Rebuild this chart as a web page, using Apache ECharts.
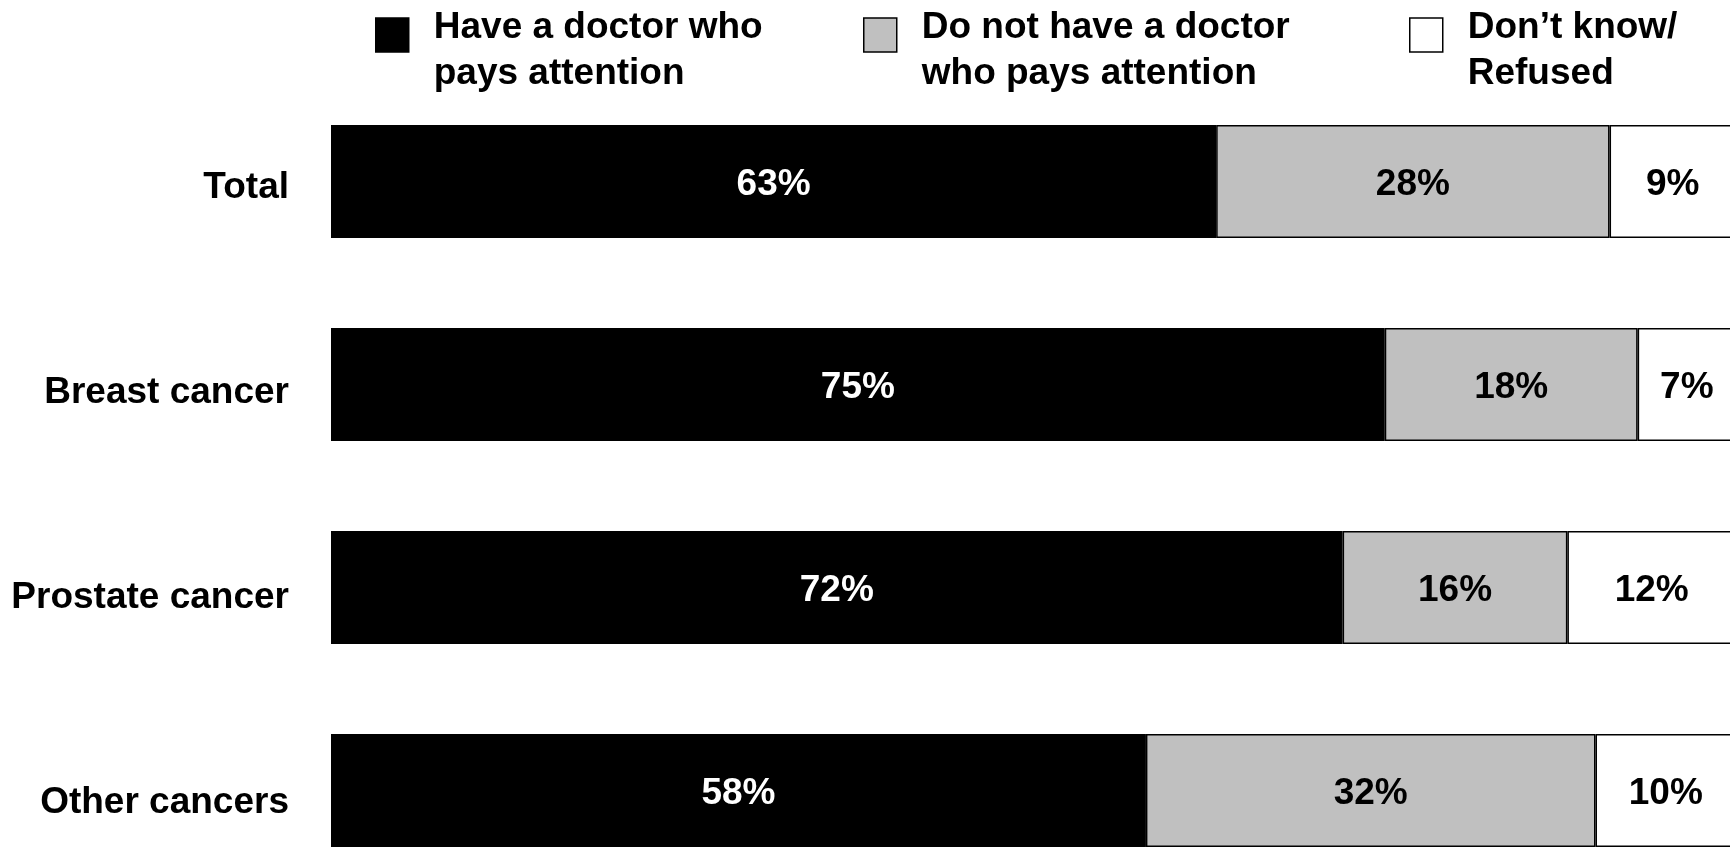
<!DOCTYPE html>
<html>
<head>
<meta charset="utf-8">
<script src="https://cdn.jsdelivr.net/npm/echarts@6/dist/echarts.min.js"></script>
<style>
html,body{margin:0;padding:0;background:#fff;}
#chart{width:1730px;height:847px;}
</style>
</head>
<body>
<div id="chart"></div>
<script>
const categories = ['Total', 'Breast cancer', 'Prostate cancer', 'Other cancers'];
const seriesNames = ['Have a doctor who\npays attention', 'Do not have a doctor\nwho pays attention', 'Don\u2019t know/\nRefused'];
const haveDoctor = [63, 75, 72, 58];
const noDoctor = [28, 18, 16, 32];
const dontKnow = [9, 7, 12, 10];

const colors = ['#000000', '#c0c0c0', '#ffffff'];
const labelColors = ['#ffffff', '#000000', '#000000'];
const values = [haveDoctor, noDoctor, dontKnow];
const FONT = 'Liberation Sans, Arial, Helvetica, sans-serif';

const chart = echarts.init(document.getElementById('chart'));

const legendLefts = [375, 863, 1409];
const legends = seriesNames.map((n, i) => ({
  data: [n],
  left: legendLefts[i],
  top: -27,
  padding: 0,
  itemWidth: 33,
  itemHeight: 34,
  icon: 'rect',
  selectedMode: false,
  itemStyle: { borderColor: '#000', borderWidth: 1.5 },
  formatter: function (name) {
    return '{s| }\n' + name.split('\n').map(t => '{a|' + t + '}').join('\n');
  },
  textStyle: {
    fontFamily: FONT, fontSize: 37, fontWeight: 'bold', color: '#000',
    padding: [0, 0, 0, 20],
    rich: {
      s: { fontSize: 10, height: 32, lineHeight: 32 },
      a: { fontFamily: FONT, fontSize: 37, fontWeight: 'bold', color: '#000', lineHeight: 46 }
    }
  }
}));

const series = seriesNames.map((n, i) => ({
  name: n,
  type: 'bar',
  stack: 'all',
  barWidth: 113,
  data: values[i],
  itemStyle: { color: colors[i], borderColor: '#000', borderWidth: 1.5 },
  label: {
    show: true,
    position: 'inside',
    offset: [0, 3],
    formatter: '{c}%',
    color: labelColors[i],
    fontFamily: FONT, fontSize: 37, fontWeight: 'bold'
  },
  emphasis: { disabled: true }
}));

chart.setOption({
  backgroundColor: '#fff',
  animation: false,
  legend: legends,
  grid: [
    { left: 331, top: 80, width: 1405, height: 812, containLabel: false, outerBoundsMode: 'none' },
    { left: 331, top: 80.5, width: 1405, height: 820, containLabel: false, outerBoundsMode: 'none' }
  ],
  xAxis: [
    { type: 'value', min: 0, max: 100, show: false, gridIndex: 0 },
    { type: 'value', min: 0, max: 100, show: false, gridIndex: 1 }
  ],
  yAxis: [
    {
      type: 'category', gridIndex: 0, data: categories, inverse: true,
      axisLine: { show: false }, axisTick: { show: false }, axisLabel: { show: false }
    },
    {
      type: 'category', gridIndex: 1, data: categories, inverse: true,
      axisLine: { show: false }, axisTick: { show: false },
      axisLabel: {
        margin: 42,
        color: '#000',
        formatter: '{a|{value}}',
        rich: {
          a: { fontFamily: FONT, fontSize: 37, fontWeight: 'bold', color: '#000', padding: [10, 0, 0, 0] }
        }
      }
    }
  ],
  series: series
});
</script>
</body>
</html>
